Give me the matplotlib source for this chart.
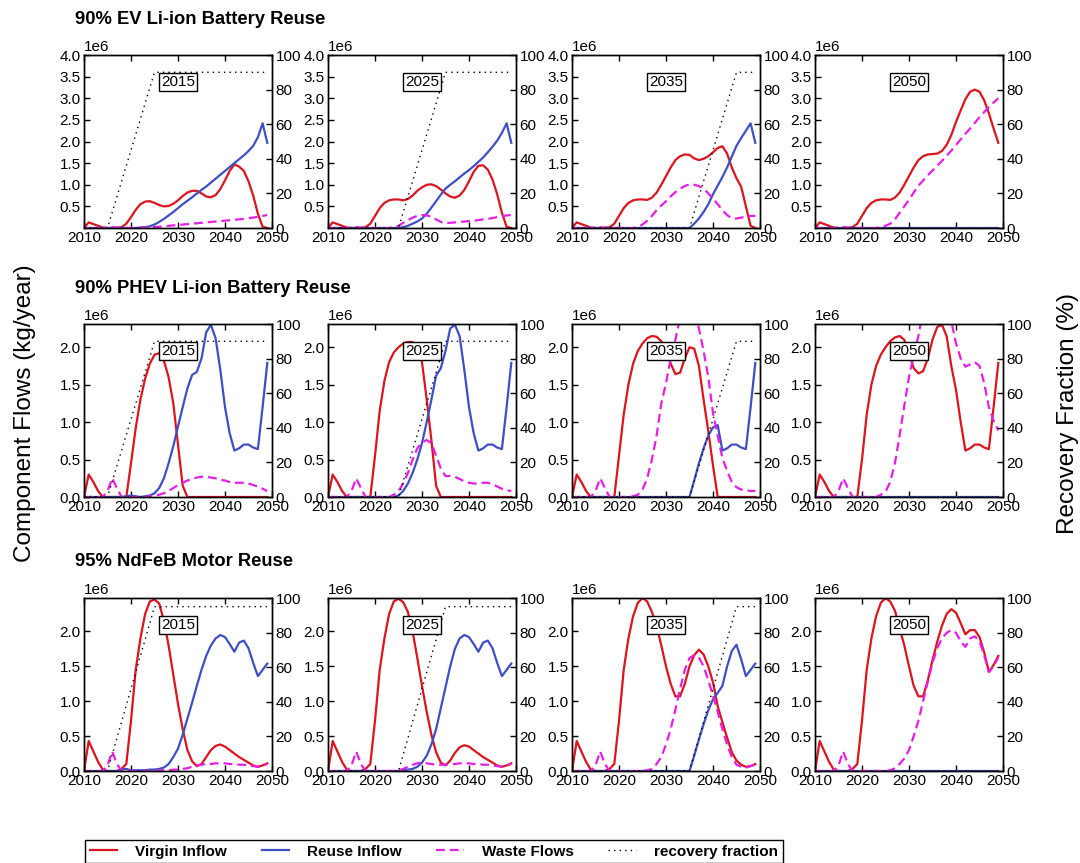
import matplotlib
matplotlib.use("Agg")
import matplotlib.pyplot as plt
from matplotlib.lines import Line2D
import numpy as np

plt.rcParams["font.family"] = ["Liberation Sans", "DejaVu Sans"]

# --- data (flows in 1e6 kg/year, one value per year 2010-2049) ---
YEARS = np.arange(2010, 2050)
SCENARIOS = [2015, 2025, 2035, 2050]

EV_VIRGIN = {
    2015: [0.00, 0.13, 0.09, 0.05, 0.01, 0.00, 0.00, 0.00, 0.02, 0.10,
           0.25, 0.42, 0.55, 0.61, 0.62, 0.58, 0.53, 0.50, 0.51, 0.56,
           0.64, 0.74, 0.82, 0.86, 0.86, 0.80, 0.73, 0.71, 0.76, 0.90,
           1.10, 1.32, 1.47, 1.42, 1.32, 1.08, 0.75, 0.33, 0.03, 0.00],
    2025: [0.00, 0.13, 0.09, 0.05, 0.01, 0.00, 0.00, 0.00, 0.02, 0.10,
           0.28, 0.46, 0.58, 0.64, 0.66, 0.66, 0.64, 0.67, 0.75, 0.86,
           0.94, 1.00, 1.01, 0.97, 0.89, 0.80, 0.73, 0.70, 0.75, 0.88,
           1.08, 1.30, 1.44, 1.45, 1.35, 1.12, 0.78, 0.35, 0.03, 0.00],
    2035: [0.00, 0.13, 0.09, 0.05, 0.01, 0.00, 0.00, 0.00, 0.02, 0.10,
           0.28, 0.46, 0.58, 0.64, 0.66, 0.66, 0.65, 0.70, 0.82, 1.00,
           1.20, 1.40, 1.57, 1.66, 1.70, 1.69, 1.61, 1.57, 1.60, 1.66,
           1.75, 1.85, 1.89, 1.72, 1.40, 1.15, 0.95, 0.50, 0.05, 0.00],
    2050: [0.00, 0.13, 0.09, 0.05, 0.01, 0.00, 0.00, 0.00, 0.02, 0.10,
           0.28, 0.46, 0.58, 0.64, 0.66, 0.66, 0.65, 0.70, 0.82, 1.00,
           1.20, 1.40, 1.57, 1.66, 1.70, 1.71, 1.72, 1.78, 1.92, 2.15,
           2.45, 2.72, 2.98, 3.15, 3.20, 3.15, 2.95, 2.65, 2.30, 1.97],
}
EV_REUSE = {
    2015: [0.00, 0.00, 0.00, 0.00, 0.00, 0.00, 0.00, 0.00, 0.00, 0.00,
           0.00, 0.00, 0.01, 0.02, 0.04, 0.08, 0.14, 0.21, 0.29, 0.37,
           0.46, 0.55, 0.63, 0.71, 0.80, 0.88, 0.96, 1.05, 1.14, 1.23,
           1.32, 1.41, 1.50, 1.59, 1.68, 1.78, 1.90, 2.10, 2.42, 1.97],
    2025: [0.00, 0.00, 0.00, 0.00, 0.00, 0.00, 0.00, 0.00, 0.00, 0.00,
           0.00, 0.00, 0.00, 0.00, 0.00, 0.00, 0.02, 0.05, 0.10, 0.15,
           0.22, 0.33, 0.47, 0.62, 0.77, 0.91, 1.00, 1.08, 1.17, 1.26,
           1.34, 1.43, 1.53, 1.63, 1.75, 1.88, 2.02, 2.20, 2.42, 1.97],
    2035: [0.00, 0.00, 0.00, 0.00, 0.00, 0.00, 0.00, 0.00, 0.00, 0.00,
           0.00, 0.00, 0.00, 0.00, 0.00, 0.00, 0.00, 0.00, 0.00, 0.00,
           0.00, 0.00, 0.00, 0.00, 0.00, 0.00, 0.10, 0.22, 0.37, 0.55,
           0.78, 0.98, 1.18, 1.40, 1.65, 1.90, 2.08, 2.25, 2.42, 1.97],
    2050: [0.00] * 40,
}
EV_WASTE = {
    2015: [0.00, 0.00, 0.00, 0.00, 0.00, 0.01, 0.02, 0.01, 0.00, 0.00,
           0.00, 0.00, 0.01, 0.01, 0.02, 0.02, 0.03, 0.04, 0.05, 0.06,
           0.07, 0.08, 0.09, 0.10, 0.11, 0.12, 0.13, 0.14, 0.15, 0.16,
           0.17, 0.18, 0.19, 0.20, 0.21, 0.23, 0.24, 0.26, 0.28, 0.30],
    2025: [0.00, 0.00, 0.00, 0.00, 0.00, 0.01, 0.02, 0.01, 0.00, 0.00,
           0.00, 0.00, 0.00, 0.00, 0.02, 0.05, 0.12, 0.18, 0.24, 0.28,
           0.30, 0.29, 0.26, 0.20, 0.14, 0.11, 0.12, 0.13, 0.14, 0.15,
           0.16, 0.17, 0.18, 0.20, 0.21, 0.23, 0.25, 0.27, 0.29, 0.30],
    2035: [0.00, 0.00, 0.00, 0.00, 0.00, 0.01, 0.02, 0.01, 0.00, 0.00,
           0.00, 0.00, 0.00, 0.00, 0.02, 0.08, 0.17, 0.28, 0.41, 0.52,
           0.62, 0.73, 0.83, 0.91, 0.97, 1.01, 1.00, 0.97, 0.91, 0.80,
           0.68, 0.55, 0.41, 0.30, 0.22, 0.22, 0.24, 0.26, 0.28, 0.28],
    2050: [0.00, 0.00, 0.00, 0.00, 0.00, 0.01, 0.02, 0.01, 0.00, 0.00,
           0.00, 0.00, 0.00, 0.00, 0.02, 0.05, 0.10, 0.20, 0.35, 0.50,
           0.65, 0.82, 0.98, 1.10, 1.22, 1.33, 1.44, 1.55, 1.67, 1.79,
           1.92, 2.05, 2.18, 2.30, 2.43, 2.56, 2.68, 2.80, 2.90, 3.00],
}

PHEV_VIRGIN = {
    2015: [0.00, 0.30, 0.20, 0.08, 0.00, 0.00, 0.00, 0.00, 0.00, 0.00,
           0.45, 0.92, 1.30, 1.58, 1.78, 1.90, 1.92, 1.82, 1.60, 1.25,
           0.70, 0.15, 0.00, 0.00, 0.00, 0.00, 0.00, 0.00, 0.00, 0.00,
           0.00, 0.00, 0.00, 0.00, 0.00, 0.00, 0.00, 0.00, 0.00, 0.00],
    2025: [0.00, 0.30, 0.20, 0.08, 0.00, 0.00, 0.00, 0.00, 0.00, 0.00,
           0.55, 1.15, 1.55, 1.80, 1.93, 2.00, 2.05, 2.07, 2.07, 2.01,
           1.80, 1.30, 0.76, 0.15, 0.00, 0.00, 0.00, 0.00, 0.00, 0.00,
           0.00, 0.00, 0.00, 0.00, 0.00, 0.00, 0.00, 0.00, 0.00, 0.00],
    2035: [0.00, 0.30, 0.20, 0.08, 0.00, 0.00, 0.00, 0.00, 0.00, 0.00,
           0.55, 1.10, 1.50, 1.78, 1.95, 2.05, 2.12, 2.15, 2.14, 2.08,
           1.97, 1.78, 1.64, 1.66, 1.85, 2.00, 1.98, 1.75, 1.30, 0.88,
           0.42, 0.00, 0.00, 0.00, 0.00, 0.00, 0.00, 0.00, 0.00, 0.00],
    2050: [0.00, 0.30, 0.20, 0.08, 0.00, 0.00, 0.00, 0.00, 0.00, 0.00,
           0.50, 1.10, 1.50, 1.75, 1.90, 2.00, 2.08, 2.13, 2.15, 2.10,
           1.92, 1.72, 1.65, 1.68, 1.85, 2.10, 2.27, 2.30, 2.15, 1.75,
           1.43, 1.00, 0.62, 0.65, 0.70, 0.70, 0.66, 0.64, 1.20, 1.79],
}
PHEV_REUSE = {
    2015: [0.00, 0.00, 0.00, 0.00, 0.00, 0.00, 0.00, 0.00, 0.00, 0.01,
           0.02, 0.01, 0.00, 0.01, 0.02, 0.05, 0.12, 0.25, 0.45, 0.68,
           0.94, 1.20, 1.45, 1.63, 1.67, 1.85, 2.20, 2.30, 2.12, 1.70,
           1.20, 0.85, 0.62, 0.65, 0.70, 0.70, 0.66, 0.64, 1.20, 1.79],
    2025: [0.00, 0.00, 0.00, 0.00, 0.00, 0.00, 0.00, 0.00, 0.00, 0.00,
           0.00, 0.00, 0.00, 0.00, 0.00, 0.02, 0.08, 0.18, 0.32, 0.50,
           0.72, 1.00, 1.30, 1.62, 1.72, 1.95, 2.25, 2.30, 2.15, 1.70,
           1.20, 0.85, 0.62, 0.65, 0.70, 0.70, 0.66, 0.64, 1.20, 1.79],
    2035: [0.00, 0.00, 0.00, 0.00, 0.00, 0.00, 0.00, 0.00, 0.00, 0.00,
           0.00, 0.00, 0.00, 0.00, 0.00, 0.00, 0.00, 0.00, 0.00, 0.00,
           0.00, 0.00, 0.00, 0.00, 0.00, 0.00, 0.22, 0.45, 0.65, 0.82,
           0.93, 0.96, 0.62, 0.65, 0.70, 0.70, 0.66, 0.64, 1.20, 1.79],
    2050: [0.00] * 40,
}
PHEV_WASTE = {
    2015: [0.00, 0.00, 0.00, 0.00, 0.00, 0.08, 0.25, 0.12, 0.00, 0.00,
           0.00, 0.00, 0.00, 0.00, 0.01, 0.02, 0.03, 0.05, 0.08, 0.12,
           0.16, 0.19, 0.22, 0.24, 0.26, 0.27, 0.27, 0.26, 0.25, 0.23,
           0.22, 0.20, 0.19, 0.19, 0.19, 0.18, 0.16, 0.14, 0.11, 0.08],
    2025: [0.00, 0.00, 0.00, 0.00, 0.00, 0.08, 0.25, 0.12, 0.00, 0.00,
           0.00, 0.00, 0.00, 0.00, 0.03, 0.08, 0.18, 0.32, 0.50, 0.65,
           0.73, 0.76, 0.72, 0.55, 0.38, 0.28, 0.28, 0.27, 0.24, 0.21,
           0.19, 0.18, 0.18, 0.19, 0.19, 0.17, 0.14, 0.11, 0.09, 0.08],
    2035: [0.00, 0.00, 0.00, 0.00, 0.00, 0.08, 0.25, 0.12, 0.00, 0.00,
           0.00, 0.00, 0.00, 0.01, 0.03, 0.10, 0.25, 0.50, 0.82, 1.25,
           1.52, 1.85, 2.10, 2.40, 2.70, 2.80, 2.65, 2.25, 1.95, 1.60,
           1.12, 0.82, 0.52, 0.35, 0.20, 0.13, 0.10, 0.09, 0.08, 0.08],
    2050: [0.00, 0.00, 0.00, 0.00, 0.00, 0.08, 0.25, 0.12, 0.00, 0.00,
           0.00, 0.00, 0.00, 0.00, 0.03, 0.07, 0.20, 0.45, 0.82, 1.22,
           1.60, 1.90, 2.15, 2.50, 2.75, 2.85, 2.85, 2.75, 2.60, 2.35,
           2.05, 1.85, 1.74, 1.77, 1.80, 1.75, 1.52, 1.20, 1.02, 0.89],
}

NDFEB_VIRGIN = {
    2015: [0.00, 0.43, 0.28, 0.13, 0.02, 0.00, 0.00, 0.00, 0.03, 0.10,
           0.72, 1.45, 1.90, 2.25, 2.43, 2.46, 2.40, 2.15, 1.80, 1.38,
           0.96, 0.60, 0.30, 0.14, 0.07, 0.10, 0.20, 0.30, 0.36, 0.38,
           0.35, 0.30, 0.25, 0.20, 0.16, 0.12, 0.08, 0.06, 0.08, 0.11],
    2025: [0.00, 0.43, 0.28, 0.13, 0.02, 0.00, 0.00, 0.00, 0.03, 0.10,
           0.72, 1.45, 1.90, 2.25, 2.43, 2.47, 2.42, 2.28, 2.00, 1.62,
           1.22, 0.85, 0.52, 0.27, 0.12, 0.08, 0.15, 0.26, 0.34, 0.37,
           0.35, 0.30, 0.25, 0.20, 0.16, 0.12, 0.08, 0.06, 0.08, 0.11],
    2035: [0.00, 0.43, 0.28, 0.13, 0.02, 0.00, 0.00, 0.00, 0.03, 0.10,
           0.72, 1.45, 1.90, 2.22, 2.41, 2.48, 2.43, 2.28, 2.08, 1.80,
           1.50, 1.25, 1.07, 1.07, 1.25, 1.50, 1.66, 1.74, 1.67, 1.50,
           1.27, 0.93, 0.70, 0.48, 0.27, 0.15, 0.09, 0.06, 0.07, 0.10],
    2050: [0.00, 0.43, 0.28, 0.13, 0.02, 0.00, 0.00, 0.00, 0.03, 0.10,
           0.72, 1.45, 1.90, 2.22, 2.41, 2.48, 2.43, 2.30, 2.05, 1.80,
           1.50, 1.22, 1.07, 1.07, 1.30, 1.59, 1.85, 2.08, 2.25, 2.32,
           2.27, 2.12, 1.96, 2.02, 2.02, 1.92, 1.70, 1.42, 1.52, 1.65],
}
NDFEB_REUSE = {
    2015: [0.00, 0.00, 0.00, 0.00, 0.00, 0.00, 0.00, 0.00, 0.02, 0.03,
           0.01, 0.01, 0.01, 0.01, 0.02, 0.02, 0.03, 0.05, 0.10, 0.20,
           0.32, 0.52, 0.75, 0.98, 1.22, 1.45, 1.65, 1.80, 1.90, 1.95,
           1.92, 1.82, 1.71, 1.84, 1.87, 1.76, 1.55, 1.36, 1.45, 1.54],
    2025: [0.00, 0.00, 0.00, 0.00, 0.00, 0.00, 0.00, 0.00, 0.00, 0.00,
           0.00, 0.00, 0.00, 0.00, 0.00, 0.00, 0.01, 0.02, 0.03, 0.06,
           0.12, 0.22, 0.38, 0.60, 0.90, 1.20, 1.50, 1.75, 1.90, 1.95,
           1.92, 1.82, 1.71, 1.84, 1.87, 1.76, 1.55, 1.36, 1.45, 1.54],
    2035: [0.00, 0.00, 0.00, 0.00, 0.00, 0.00, 0.00, 0.00, 0.00, 0.00,
           0.00, 0.00, 0.00, 0.00, 0.00, 0.00, 0.00, 0.00, 0.00, 0.00,
           0.00, 0.00, 0.00, 0.00, 0.00, 0.00, 0.22, 0.45, 0.67, 0.87,
           1.03, 1.12, 1.22, 1.50, 1.72, 1.81, 1.60, 1.36, 1.45, 1.54],
    2050: [0.00] * 40,
}
NDFEB_WASTE = {
    2015: [0.00, 0.00, 0.00, 0.00, 0.00, 0.08, 0.28, 0.10, 0.00, 0.00,
           0.00, 0.00, 0.00, 0.00, 0.00, 0.00, 0.01, 0.01, 0.01, 0.02,
           0.02, 0.03, 0.04, 0.06, 0.08, 0.09, 0.10, 0.10, 0.11, 0.11,
           0.11, 0.10, 0.10, 0.09, 0.09, 0.08, 0.07, 0.06, 0.08, 0.10],
    2025: [0.00, 0.00, 0.00, 0.00, 0.00, 0.08, 0.28, 0.10, 0.00, 0.00,
           0.00, 0.00, 0.00, 0.00, 0.00, 0.01, 0.03, 0.06, 0.09, 0.11,
           0.12, 0.11, 0.10, 0.09, 0.09, 0.09, 0.10, 0.10, 0.11, 0.11,
           0.11, 0.10, 0.10, 0.09, 0.09, 0.08, 0.07, 0.06, 0.08, 0.10],
    2035: [0.00, 0.00, 0.00, 0.00, 0.00, 0.08, 0.28, 0.10, 0.00, 0.00,
           0.00, 0.00, 0.00, 0.00, 0.00, 0.00, 0.01, 0.03, 0.10, 0.20,
           0.38, 0.60, 0.88, 1.18, 1.45, 1.62, 1.66, 1.63, 1.50, 1.30,
           1.08, 0.85, 0.60, 0.38, 0.20, 0.09, 0.06, 0.05, 0.07, 0.09],
    2050: [0.00, 0.00, 0.00, 0.00, 0.00, 0.08, 0.28, 0.10, 0.00, 0.00,
           0.00, 0.00, 0.00, 0.00, 0.00, 0.00, 0.01, 0.04, 0.10, 0.18,
           0.30, 0.50, 0.72, 1.00, 1.28, 1.55, 1.76, 1.90, 1.98, 2.02,
           1.98, 1.86, 1.78, 1.90, 1.93, 1.86, 1.66, 1.42, 1.50, 1.63],
}

# recovery fraction (%): linear ramp over ten years from the start year
RECOVERY_YEARS = {
    2015: [2010, 2015, 2025, 2049],
    2025: [2010, 2025, 2035, 2049],
    2035: [2010, 2035, 2045, 2049],
    2050: [2010, 2049],
}
RECOVERY_EV = {2015: [0, 0, 90, 90], 2025: [0, 0, 90, 90], 2035: [0, 0, 90, 90], 2050: [0, 0]}
RECOVERY_PHEV = RECOVERY_EV
RECOVERY_NDFEB = {2015: [0, 0, 95, 95], 2025: [0, 0, 95, 95], 2035: [0, 0, 95, 95], 2050: [0, 0]}

ROW_TITLES = ["90% EV Li-ion Battery Reuse", "90% PHEV Li-ion Battery Reuse",
              "95% NdFeB Motor Reuse"]
ROW_DATA = [
    (EV_VIRGIN, EV_REUSE, EV_WASTE, RECOVERY_EV),
    (PHEV_VIRGIN, PHEV_REUSE, PHEV_WASTE, RECOVERY_PHEV),
    (NDFEB_VIRGIN, NDFEB_REUSE, NDFEB_WASTE, RECOVERY_NDFEB),
]
ROW_YMAX = [4.0e6, 2.31e6, 2.48e6]
ROW_YTICKS = [[0.5e6, 1.0e6, 1.5e6, 2.0e6, 2.5e6, 3.0e6, 3.5e6, 4.0e6],
              [0.0, 0.5e6, 1.0e6, 1.5e6, 2.0e6],
              [0.0, 0.5e6, 1.0e6, 1.5e6, 2.0e6]]

RED = "#dc141e"
BLUE = "#3e4fc6"
MAGENTA = "#e61ee6"
WASTE_DASH = (0, (4, 2.2))
REC_DOT = (0, (1, 3))
TICK_FS = 11

# --- layout (pixels) ---
W, H = 1080, 863
COL_LEFT = [84, 328, 572, 815]
ROW_TOP = [55, 324, 598]
AX_W, AX_H = 188, 173
TITLE_Y = [19, 288, 561]

fig = plt.figure(figsize=(W / 100, H / 100), dpi=100)

for r, (virgin, reuse, waste, recovery) in enumerate(ROW_DATA):
    fig.text(75 / W, 1 - TITLE_Y[r] / H, ROW_TITLES[r], fontsize=13.2,
             fontweight="bold", ha="left", va="center")
    for c, scen in enumerate(SCENARIOS):
        rect = [COL_LEFT[c] / W, 1 - (ROW_TOP[r] + AX_H) / H, AX_W / W, AX_H / H]
        ax = fig.add_axes(rect)
        scale = 1e6
        ax.plot(YEARS, np.array(virgin[scen]) * scale, color=RED, lw=1.6)
        ax.plot(YEARS, np.array(reuse[scen]) * scale, color=BLUE, lw=1.6)
        ax.plot(YEARS, np.array(waste[scen]) * scale, color=MAGENTA, lw=1.6,
                linestyle=WASTE_DASH)
        ax.set_xlim(2010, 2050)
        ax.set_ylim(0, ROW_YMAX[r])
        ax.set_xticks([2010, 2020, 2030, 2040, 2050])
        ax.set_yticks(ROW_YTICKS[r])

        ax2 = ax.twinx()
        ax2.plot(RECOVERY_YEARS[scen], recovery[scen], color="black", lw=1.0,
                 linestyle=REC_DOT)
        ax2.set_ylim(0, 100)
        ax2.set_yticks([0, 20, 40, 60, 80, 100])
        ax2.text(0.5, 0.845, str(scen), transform=ax2.transAxes, ha="center",
                 va="center", fontsize=11,
                 bbox=dict(boxstyle="square,pad=0.15", facecolor="white",
                           edgecolor="black", linewidth=1.0))

        ax.tick_params(axis="both", direction="in", length=4, width=1,
                       labelsize=TICK_FS, top=True, right=False, pad=2.5)
        ax2.tick_params(axis="y", direction="in", length=4, width=1,
                        labelsize=TICK_FS, pad=2.5)
        ax.yaxis.get_offset_text().set_fontsize(TICK_FS)
        for a in (ax, ax2):
            for sp in a.spines.values():
                sp.set_linewidth(1.0)

fig.text(25 / W, 1 - 413 / H, "Component Flows (kg/year)", rotation=90,
         fontsize=17.5, ha="center", va="center")
fig.text(1068 / W, 1 - 413 / H, "Recovery Fraction (%)", rotation=90,
         fontsize=17.5, ha="center", va="center")

handles = [
    Line2D([], [], color=RED, lw=1.6),
    Line2D([], [], color=BLUE, lw=1.6),
    Line2D([], [], color=MAGENTA, lw=1.6, linestyle=WASTE_DASH),
    Line2D([], [], color="black", lw=1.0, linestyle=REC_DOT),
]
labels = ["Virgin Inflow", "Reuse Inflow", "Waste Flows", "recovery fraction"]
leg = fig.legend(handles, labels, loc="upper left",
                 bbox_to_anchor=(85 / W, 1 - 840 / H), ncol=4, frameon=True,
                 fancybox=False, edgecolor="black", framealpha=1,
                 prop={"weight": "bold", "size": 11}, handlelength=1.8,
                 handletextpad=1.2, columnspacing=2.25, borderaxespad=0,
                 borderpad=0.3)
leg.get_frame().set_linewidth(1.0)

fig.savefig("out.png", dpi=100)
